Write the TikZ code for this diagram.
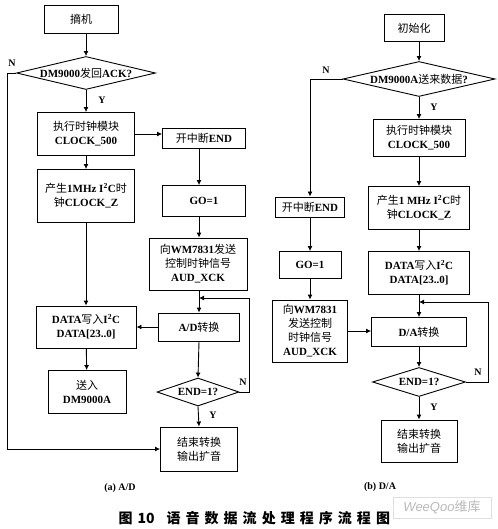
\documentclass[tikz,border=0pt]{standalone}
\usepackage{fontspec}
\setmainfont{Liberation Serif}
\newfontfamily\zhfont{Noto Sans CJK SC}
\newfontfamily\wmfont{Liberation Sans}
\newcommand\zh[1]{{\zhfont\mdseries #1}}
\usetikzlibrary{positioning, arrows.meta, shapes.geometric}
\tikzset{
    % Node styles
    box/.style={rectangle, draw, line width=0.9pt, align=center, inner sep=1pt,
                font=\bfseries\fontsize{11}{14}\selectfont},
    decision/.style={diamond, draw, line width=0.9pt, inner sep=0pt},
    dtext/.style={font=\bfseries\fontsize{11}{13}\selectfont},
    % Arrow styles
    arrow/.style={-{Latex[length=5pt, width=5pt]}, line width=0.9pt},
    % Annotation styles
    yn/.style={font=\bfseries\fontsize{10}{12}\selectfont},
    panel/.style={font=\bfseries\fontsize{10}{12}\selectfont},
}
\begin{document}
\begin{tikzpicture}[x=1pt, y=-1pt]
    \useasboundingbox (0,0) rectangle (497,529);

    % (a) A/D
    \node[box, minimum width=74pt, minimum height=28pt] (offhook) at (81,19) {\zh{摘机}};
    \node[decision, minimum width=139pt, minimum height=33pt,
          label={[dtext]center:{DM9000\zh{发回}ACK?}}] (ack) at (86,73) {};
    \node[box, minimum width=97pt, minimum height=43pt] (clka) at (86,134) {\zh{执行时钟模块}\\CLOCK\_500};
    \node[box, minimum width=83pt, minimum height=20pt] (inta) at (204,138) {\zh{开中断}END};
    \node[box, minimum width=97pt, minimum height=53pt] (gena) at (86,196) {\zh{产生}1MHz I\textsuperscript{2}C\zh{时}\\\zh{钟}CLOCK\_Z};
    \node[box, minimum width=83pt, minimum height=31pt] (goa) at (204,201) {GO=1};
    \node[box, minimum width=98pt, minimum height=52pt] (wma) at (198,264) {\zh{向}WM7831\zh{发送}\\\zh{控制时钟信号}\\AUD\_XCK};
    \node[box, minimum width=100pt, minimum height=42pt] (dataa) at (86,327) {DATA\zh{写入}I\textsuperscript{2}C\\DATA[23..0]};
    \node[box, minimum width=81pt, minimum height=28pt] (ad) at (199,327) {A/D\zh{转换}};
    \node[box, minimum width=78pt, minimum height=43pt] (senda) at (87,392) {\zh{送入}\\DM9000A};
    \node[decision, minimum width=82pt, minimum height=28pt,
          label={[dtext]center:{END=1?}}] (enda) at (198,392) {};
    \node[box, minimum width=77pt, minimum height=44pt] (stopa) at (199,449) {\zh{结束转换}\\\zh{输出扩音}};
    \coordinate (joina) at (199,298);

    \draw[arrow] (offhook.south -| ack.north) -- (ack.north);
    \draw[arrow] (ack.west) -- ++(-9,0) |- (stopa.west);
    \draw[arrow] (ack) -- (clka);
    \draw[arrow] (clka.east) -- (clka.east -| inta.west);
    \draw[arrow] (clka) -- (gena);
    \draw[arrow] (inta.south -| ad.north) -- (goa.north -| ad.north);
    \draw[arrow] (goa.south -| ad.north) -- (wma.north -| ad.north);
    \draw[arrow] (wma.south -| ad.north) -- (ad.north);
    \draw[arrow] (gena) -- (dataa);
    \draw[arrow] (ad) -- (dataa);
    \draw[arrow] (dataa) -- (senda);
    \draw[arrow] (ad.south) -- (enda.north);
    \draw[arrow] (enda.east) -- ++(10,0) |- (joina);
    \draw[arrow] (enda.south) -- (stopa.north);

    \node[yn] (na1) at (12,63) {N};
    \node[yn] (ya1) at (102,100) {Y};
    \node[yn] (na2) at (243,382) {N};
    \node[yn] (ya2) at (213,415) {Y};
    \node[panel] (capa) at (120,488) {(a) A/D};

    % (b) D/A
    \node[box, minimum width=60pt, minimum height=27pt] (init) at (414,28) {\zh{初始化}};
    \node[decision, minimum width=152pt, minimum height=35pt,
          label={[dtext]center:{DM9000A\zh{送来数据}?}}] (recv) at (419,79) {};
    \node[box, minimum width=92pt, minimum height=37pt] (clkb) at (419,138) {\zh{执行时钟模块}\\CLOCK\_500};
    \node[box, minimum width=101pt, minimum height=43pt] (genb) at (419,208) {\zh{产生}1 MHz I\textsuperscript{2}C\zh{时}\\\zh{钟}CLOCK\_Z};
    \node[box, minimum width=69pt, minimum height=20pt] (intb) at (310,207) {\zh{开中断}END};
    \node[box, minimum width=62pt, minimum height=27pt] (gob) at (310,265) {GO=1};
    \node[box, minimum width=101pt, minimum height=43pt] (datab) at (419,273) {DATA\zh{写入}I\textsuperscript{2}C\\DATA[23..0]};
    \node[box, minimum width=75pt, minimum height=62pt] (wmb) at (310,331) {\zh{向}WM7831\\\zh{发送控制}\\\zh{时钟信号}\\AUD\_XCK};
    \node[box, minimum width=95pt, minimum height=29pt] (da) at (419,332) {D/A\zh{转换}};
    \node[decision, minimum width=93pt, minimum height=29pt,
          label={[dtext]center:{END=1?}}] (endb) at (419,382) {};
    \node[box, minimum width=76pt, minimum height=42pt] (stopb) at (419,441) {\zh{结束转换}\\\zh{输出扩音}};
    \coordinate (joinb) at (419,302);

    \draw[arrow] (init.south -| recv.north) -- (recv.north);
    \draw[arrow] (recv.west) -| (intb.north);
    \draw[arrow] (recv) -- (clkb);
    \draw[arrow] (clkb) -- (genb);
    \draw[arrow] (genb) -- (datab);
    \draw[arrow] (intb) -- (gob);
    \draw[arrow] (gob) -- (wmb);
    \draw[arrow] (wmb.east) -- (wmb.east -| da.west);
    \draw[arrow] (datab) -- (da);
    \draw[arrow] (da) -- (endb);
    \draw[arrow] (endb.east) -- ++(22,0) |- (joinb);
    \draw[arrow] (endb) -- (stopb);

    \node[yn] (nb1) at (326,70) {N};
    \node[yn] (yb1) at (434,107) {Y};
    \node[yn] (nb2) at (478,372) {N};
    \node[yn] (yb2) at (434,407) {Y};
    \node[panel] (capb) at (380,487) {(b) D/A};

    % Caption and stamp
    \node[anchor=west, font=\zhfont\bfseries\fontsize{14}{14}\selectfont] (caption) at (115,518)
        {图\hspace{5pt}10\hspace{12pt}{\addfontfeature{LetterSpace=36}语音数据流处理程序流程图}};
    \node[draw=gray!25, text=gray!55, minimum width=98pt, minimum height=21pt,
          font=\wmfont\itshape\fontsize{13}{13}\selectfont] (stamp) at (442,507.5) {WeeQoo\zh{维库}};
\end{tikzpicture}
\end{document}
